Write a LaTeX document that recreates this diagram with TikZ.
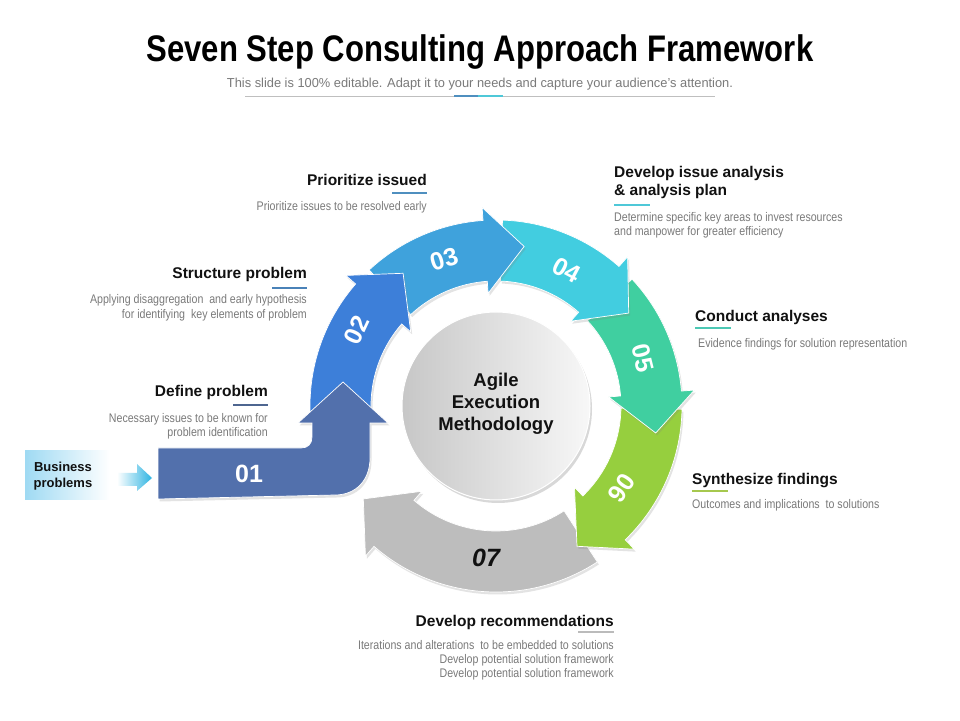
\documentclass[tikz,border=0pt]{standalone}
\usepackage{fontspec}
\setmainfont{Liberation Sans}
\newfontfamily\narrowfont[FakeStretch=0.85]{Liberation Sans}
\usetikzlibrary{calc,shadows}
\definecolor{cA}{HTML}{5270AC}
\definecolor{cB}{HTML}{3D7FD9}
\definecolor{cC}{HTML}{3FA2DC}
\definecolor{cD}{HTML}{42CDE0}
\definecolor{cE}{HTML}{40CFA0}
\definecolor{cF}{HTML}{96CF3E}
\definecolor{cG}{HTML}{BDBDBD}
\definecolor{desc}{HTML}{7A7A7A}
\definecolor{headc}{HTML}{111111}
\definecolor{ulA}{HTML}{4F8FBF}
\definecolor{ulB}{HTML}{4A82B8}
\definecolor{ulC}{HTML}{4E6690}
\definecolor{ulD}{HTML}{4FC8D8}
\definecolor{ulE}{HTML}{4CC8B4}
\definecolor{ulF}{HTML}{A6C84E}
\definecolor{ulG}{HTML}{BBBBBB}
\definecolor{bizc}{HTML}{9FDAF3}
\definecolor{bizarrow}{HTML}{2EB4E2}
\tikzset{
 arrowbody/.style={fill=#1, draw=white, line width=0.7pt, drop shadow={opacity=0.22,shadow xshift=1.5pt,shadow yshift=-2.5pt}},
 heading/.style={font=\fontsize{15.5}{18}\selectfont\bfseries, text=headc, inner sep=0pt},
 desctext/.style={font=\narrowfont\fontsize{12.5}{14}\selectfont, text=desc, inner sep=0pt},
 ul/.style={line width=2pt, draw=#1},
 num/.style={font=\fontsize{25}{25}\selectfont\bfseries, text=white, inner sep=0pt},
}
\newcommand\ringarrow[4]{%
 \path[arrowbody=#1] ($(C)+(#2:186)$) arc[start angle=#2, end angle=#3, radius=186]
   -- ($(C)+(#3:199)$) -- ($(C)+(#4:162)$) -- ($(C)+(#3:113)$) -- ($(C)+(#3:125)$)
   arc[start angle=#3, end angle=#2, radius=125] -- cycle;}
\begin{document}
\begin{tikzpicture}[x=1pt,y=1pt]
\useasboundingbox (0,0) rectangle (960,720);
\fill[white] (0,0) rectangle (960,720);
\coordinate (C) at (496,314);

% title
\node[inner sep=0pt, anchor=base] (title) at (480,658)
  {\scalebox{0.84}[1]{\fontsize{37}{37}\selectfont\bfseries Seven Step Consulting Approach Framework}};
\node[inner sep=0pt, anchor=base, text=desc] (subtitle) at (480,632.5)
  {\resizebox{506pt}{\height}{\fontsize{13}{13}\selectfont This slide is 100\% editable. Adapt it to your needs and capture your audience's attention.}};
\draw[black!25, line width=0.6pt] (245,624) -- (715,624);
\draw[line width=2pt, color=ulA] (454,624) -- (478,624);
\draw[line width=2pt, color=ulD] (478,624) -- (503,624);

% ring arrows (back to front)
\ringarrow{cG}{-57}{-131}{-145}
\ringarrow{cF}{-1}{-46}{-60}
\ringarrow{cE}{43}{4.6}{-9.6}
\ringarrow{cD}{88}{48.6}{35}
\ringarrow{cC}{133}{94}{80}
\ringarrow{cB}{185}{139}{125}

% arrow 01
\path[arrowbody=cA] (158,272) -- (301,272) .. controls (308,272) and (312,276) .. (312,283)
  -- (312,297) -- (298,297) -- (343,338) -- (388,297) -- (370,297) -- (370,262)
  .. controls (370,240) and (356,225) .. (335,225) -- (158,221) -- cycle;

% centre circle
\shade[left color=black!22, right color=black!3, draw=white, line width=1pt,
  drop shadow={opacity=0.3,shadow xshift=2pt,shadow yshift=-3pt}] (C) circle[radius=94];
\node[align=center, inner sep=0pt, font=\fontsize{18.5}{22}\selectfont\bfseries, text=headc] (centre) at (496,316)
  {Agile\\Execution\\Methodology};

% numbers
\node[num] (n1) at (249,246) {01};
\node[num, rotate=65] (n2) at (357,390) {02};
\node[num, rotate=17] (n3) at (444,461) {03};
\node[num, rotate=-28] (n4) at (567,450) {04};
\node[num, rotate=-76] (n5) at (643,362) {05};
\node[num, rotate=-125] (n6) at (622,232) {06};
\node[font=\fontsize{25}{25}\selectfont\bfseries\itshape, text=headc, inner sep=0pt] (n7) at (486,162) {07};

% business problems
\shade[left color=bizc, right color=white] (25,220) rectangle (110,269);
\node[align=center, inner sep=0pt, font=\fontsize{13}{16}\selectfont\bfseries, text=headc] (biz) at (63,244)
  {Business\\problems};
\shade[left color=white, right color=bizarrow] (117,234) -- (137,234) -- (137,229) -- (152,242)
  -- (137,256) -- (137,247) -- (117,247) -- cycle;

% labels left side
\node[heading, anchor=base east] (h3) at (427,534.5) {Prioritize issued};
\draw[ul=ulA] (392,527) -- (427,527);
\node[desctext, anchor=base east] (d3) at (427,509) {Prioritize issues to be resolved early};

\node[heading, anchor=base east] (h2) at (307,441.5) {Structure problem};
\draw[ul=ulB] (272,432) -- (307,432);
\node[desctext, anchor=base east] (d2a) at (307,416) {Applying disaggregation \ and early hypothesis};
\node[desctext, anchor=base east] (d2b) at (307,401) {for identifying \ key elements of problem};

\node[heading, anchor=base east] (h1) at (268,323.5) {Define problem};
\draw[ul=ulC] (233,315) -- (268,315);
\node[desctext, anchor=base east] (d1a) at (268,297) {Necessary issues to be known for};
\node[desctext, anchor=base east] (d1b) at (268,283) {problem identification};

% labels right side
\node[heading, anchor=base west] (h4a) at (614,542.5) {Develop issue analysis};
\node[heading, anchor=base west] (h4b) at (614,524.5) {\& analysis plan};
\draw[ul=ulD] (614,515) -- (650,515);
\node[desctext, anchor=base west] (d4a) at (614,498) {Determine specific key areas to invest resources};
\node[desctext, anchor=base west] (d4b) at (614,484) {and manpower for greater efficiency};

\node[heading, anchor=base west] (h5) at (695,398.5) {Conduct analyses};
\draw[ul=ulE] (695,392) -- (731,392);
\node[desctext, anchor=base west] (d5) at (698,372) {Evidence findings for solution representation};

\node[heading, anchor=base west] (h6) at (692,235.5) {Synthesize findings};
\draw[ul=ulF] (692,229) -- (728,229);
\node[desctext, anchor=base west] (d6) at (692,211) {Outcomes and implications \ to solutions};

% bottom
\node[heading, anchor=base east] (h7) at (614,93.5) {Develop recommendations};
\draw[ul=ulG] (578,88) -- (614,88);
\node[desctext, anchor=base east] (d7a) at (614,71) {Iterations and alterations \ to be embedded to solutions};
\node[desctext, anchor=base east] (d7b) at (614,57) {Develop potential solution framework};
\node[desctext, anchor=base east] (d7c) at (614,43) {Develop potential solution framework};
\end{tikzpicture}
\end{document}
